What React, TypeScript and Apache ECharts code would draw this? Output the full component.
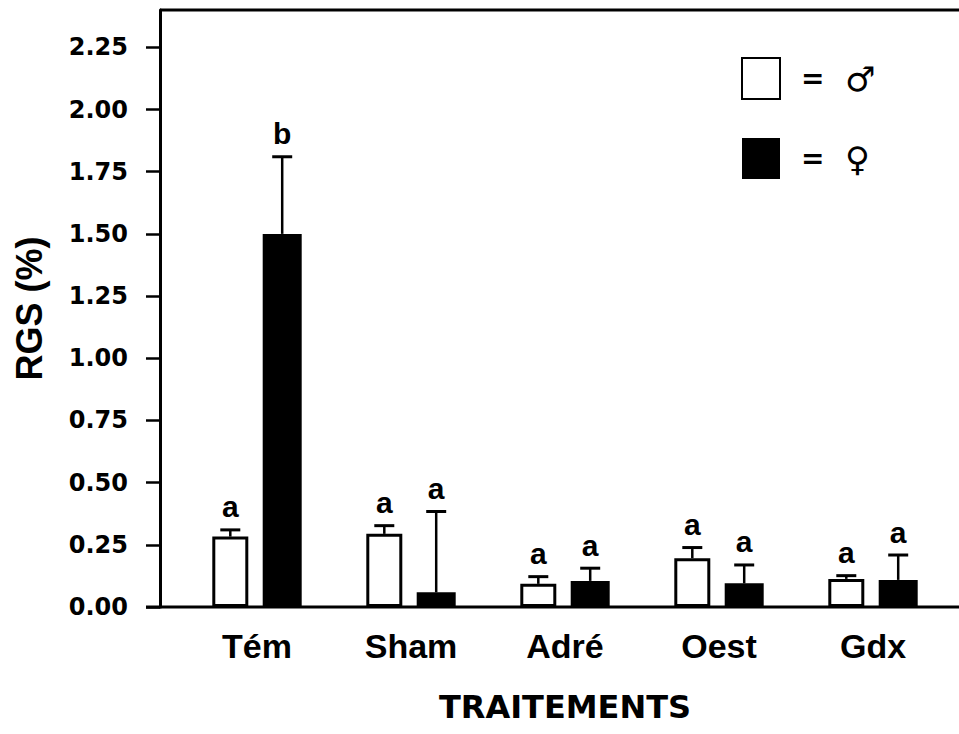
import React, { useEffect, useRef } from "react";
import * as echarts from "echarts";

const categories = ["Tém", "Sham", "Adré", "Oest", "Gdx"];
const maleMean = [0.283, 0.294, 0.093, 0.196, 0.113];
const maleErr = [0.027, 0.033, 0.029, 0.043, 0.013];
const femaleMean = [1.5, 0.059, 0.105, 0.095, 0.109];
const femaleErr = [0.31, 0.325, 0.051, 0.074, 0.1];
const maleLetters = ["a", "a", "a", "a", "a"];
const femaleLetters = ["b", "a", "a", "a", "a"];
const yTicks = [0, 0.25, 0.5, 0.75, 1.0, 1.25, 1.5, 1.75, 2.0, 2.25];

const GRID_LEFT = 180;
const GRID_RIGHT = 9;
const GRID_TOP = 10;
const GRID_BOTTOM = 127;
const W = 959;
const H = 734;
const AXIS_X = 160;

function errSeries(name: string, means: number[], errs: number[], letters: string[], offset: number) {
  return {
    type: "custom",
    name,
    coordinateSystem: "cartesian2d",
    z: 5,
    encode: { x: 0, y: 1 },
    data: means.map((m, i) => [i, m, errs[i]]),
    renderItem: (params: any, api: any) => {
      const idx = api.value(0);
      const v = api.value(1);
      const e = api.value(2);
      const base = api.coord([idx, v]);
      const top = api.coord([idx, v + e]);
      const x = base[0] + offset;
      const letter = letters[params.dataIndex];
      return {
        type: "group",
        children: [
          { type: "line", shape: { x1: x, y1: base[1], x2: x, y2: top[1] }, style: { stroke: "#000", lineWidth: 2.5 } },
          { type: "line", shape: { x1: x - 10, y1: top[1], x2: x + 10, y2: top[1] }, style: { stroke: "#000", lineWidth: 3 } },
          {
            type: "text",
            style: {
              text: letter,
              x,
              y: top[1] - 8,
              align: "center",
              verticalAlign: "bottom",
              textAlign: "center",
              textVerticalAlign: "bottom",
              fontSize: 30,
              fontWeight: "bold",
              fontFamily: "Liberation Sans",
              fill: "#000",
            },
          },
        ],
      };
    },
  };
}

export default function App() {
  const ref = useRef<HTMLDivElement>(null);
  useEffect(() => {
    if (!ref.current) return;
    const chart = echarts.init(ref.current, undefined, { renderer: "svg" });
    const gridBottomY = H - GRID_BOTTOM;
    chart.setOption({
      animation: false,
      backgroundColor: "#fff",
      grid: { left: GRID_LEFT, right: GRID_RIGHT, top: GRID_TOP, bottom: GRID_BOTTOM },
      legend: {
        data: ["♂", "♀"],
        orient: "vertical",
        left: 741,
        top: 57,
        padding: 0,
        itemWidth: 38,
        itemHeight: 41,
        itemGap: 38,
        icon: "rect",
        formatter: (n: string) => "{eq|=}{sym|" + n + "}",
        textStyle: {
          color: "#000",
          padding: [0, 0, 0, 16],
          rich: {
            eq: { fontSize: 28, fontWeight: "bold", fontFamily: "DejaVu Sans", color: "#000", width: 44 },
            sym: { fontSize: 34, fontWeight: "bold", fontFamily: "DejaVu Sans", color: "#000" },
          },
        },
      },
      xAxis: {
        type: "category",
        data: categories,
        axisLine: { show: false },
        axisTick: { show: false },
        axisLabel: { fontSize: 34, fontWeight: "bold", fontFamily: "Liberation Sans", color: "#000", margin: 22 },
        name: "TRAITEMENTS",
        nameLocation: "middle",
        nameGap: 84,
        nameTextStyle: { fontSize: 32, fontWeight: "bold", fontFamily: "DejaVu Sans", color: "#000" },
      },
      yAxis: {
        type: "value",
        min: 0,
        max: 2.4,
        interval: 0.25,
        offset: GRID_LEFT - AXIS_X,
        splitLine: { show: false },
        axisLine: { show: true, lineStyle: { color: "#000", width: 3 } },
        axisTick: { show: true, length: 14, lineStyle: { color: "#000", width: 2.5 }, customValues: yTicks },
        axisLabel: {
          customValues: yTicks,
          formatter: (v: number) => v.toFixed(2),
          fontSize: 24,
          fontWeight: "bold",
          fontFamily: "DejaVu Sans",
          color: "#000",
          margin: 32,
        },
        name: "RGS (%)",
        nameLocation: "middle",
        nameGap: 113,
        nameTextStyle: { fontSize: 36, fontWeight: "bold", fontFamily: "Liberation Sans", color: "#000" },
      },
      graphic: [
        { type: "line", shape: { x1: AXIS_X, y1: GRID_TOP, x2: W, y2: GRID_TOP }, style: { stroke: "#000", lineWidth: 3 }, z: 10 },
        { type: "line", shape: { x1: AXIS_X - 14, y1: gridBottomY, x2: W, y2: gridBottomY }, style: { stroke: "#000", lineWidth: 3 }, z: 10 },
      ],
      series: [
        {
          type: "bar",
          name: "♂",
          data: maleMean,
          barWidth: 36,
          barGap: "40%",
          itemStyle: { color: "#fff", borderColor: "#000", borderWidth: 3 },
        },
        {
          type: "bar",
          name: "♀",
          data: femaleMean,
          barWidth: 39,
          itemStyle: { color: "#000", borderColor: "#000", borderWidth: 0 },
        },
        errSeries("errM", maleMean, maleErr, maleLetters, -26.7),
        errSeries("errF", femaleMean, femaleErr, femaleLetters, 25.2),
      ],
    });
    return () => chart.dispose();
  }, []);
  return <div ref={ref} style={{ position: "fixed", left: 0, top: 0, width: W, height: H }} />;
}
